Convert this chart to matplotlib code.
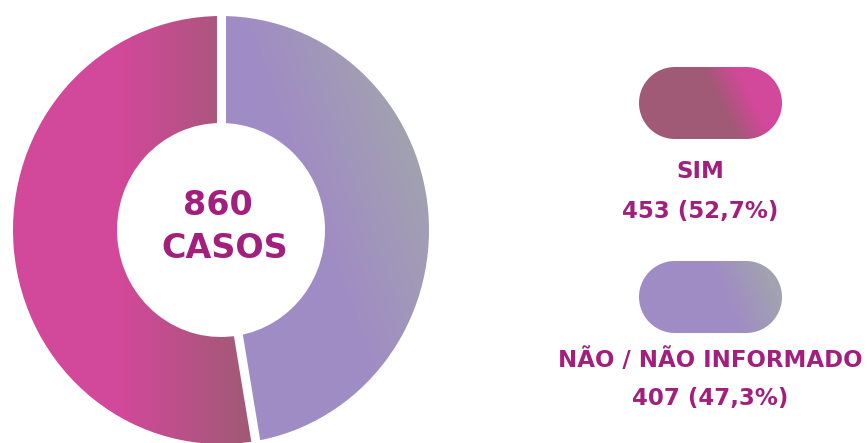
import numpy as np
import matplotlib
matplotlib.use("Agg")
import matplotlib.pyplot as plt
from matplotlib.patches import Wedge, Polygon
from matplotlib.transforms import Affine2D
from matplotlib.colors import to_rgb

# ---- data ----
categories = ["SIM", "NÃO / NÃO INFORMADO"]
values = [453, 407]
total_label = "CASOS"
# gradient colour pairs per category
grad_colors = [("#d2489a", "#a15a76"), ("#a08cc4", "#a2a2b0")]

TXT = "#a21f7d"
W, H = 867, 443
fig = plt.figure(figsize=(W / 100, H / 100), dpi=100)
ax = fig.add_axes([0, 0, 1, 1])
ax.set_xlim(0, W)
ax.set_ylim(H, 0)
ax.axis("off")

yy, xx = np.mgrid[0:H, 0:W] + 0.5


def grad_img(p0, p1, c0, c1):
    d = np.array(p1, float) - np.array(p0, float)
    t = ((xx - p0[0]) * d[0] + (yy - p0[1]) * d[1]) / (d @ d)
    t = np.clip(t, 0, 1)[..., None]
    a, b = np.array(to_rgb(c0)), np.array(to_rgb(c1))
    return a * (1 - t) + b * t


cx, cy, rx, ry = 221, 230, 208, 214
inner = 0.5
ring_tr = Affine2D().scale(rx, ry).translate(cx, cy) + ax.transData

total = sum(values)
fracs = [v / total for v in values]
a_split = 270 - 360 * fracs[0]
angles = [(a_split, 270), (270, a_split + 360)]
grad_pts = [((120, 230), (248, 230)), ((310, 200), (420, 160))]

for (a0, a1), (p0, p1), (c0, c1) in zip(angles, grad_pts, grad_colors):
    w = Wedge((0, 0), 1, a0, a1, width=1 - inner, transform=ring_tr)
    im = ax.imshow(grad_img(p0, p1, c0, c1), extent=(0, W, H, 0),
                   interpolation="bilinear", zorder=1)
    im.set_clip_path(w)

for a in (270, a_split):
    r = np.radians(a)
    ax.plot([0.4 * np.cos(r), 1.1 * np.cos(r)], [0.4 * np.sin(r), 1.1 * np.sin(r)],
            color="white", lw=6.5, solid_capstyle="butt", transform=ring_tr, zorder=3)

ax.text(218, 205, f"{total}", ha="center", va="center", color=TXT,
        fontsize=24, fontweight="bold", family="DejaVu Sans", zorder=4)
ax.text(225, 248, total_label, ha="center", va="center", color=TXT,
        fontsize=24, fontweight="bold", family="DejaVu Sans", zorder=4)


def pill(x0, y0, w, h):
    r = h / 2
    t1 = np.linspace(-np.pi / 2, np.pi / 2, 60)
    t2 = np.linspace(np.pi / 2, 3 * np.pi / 2, 60)
    right = np.c_[x0 + w - r + r * np.cos(t1), y0 + r + r * np.sin(t1)]
    left = np.c_[x0 + r + r * np.cos(t2), y0 + r + r * np.sin(t2)]
    return Polygon(np.r_[right, left], closed=True, transform=ax.transData,
                   facecolor="none", edgecolor="none")


pill_y = [67, 261]
pill_grad = [((722, 105), (748, 92), grad_colors[0][1], grad_colors[0][0]),
             ((728, 299), (770, 281), grad_colors[1][0], grad_colors[1][1])]
text_cx = [700, 710]
label_y = [(172, 211), (360, 398)]
for i in range(2):
    p = pill(639, pill_y[i], 143, 72)
    ax.add_patch(p)
    g0, g1, c0, c1 = pill_grad[i]
    im = ax.imshow(grad_img(g0, g1, c0, c1), extent=(0, W, H, 0),
                   interpolation="bilinear", zorder=1)
    im.set_clip_path(p)
    pct = f"{fracs[i] * 100:.1f}".replace(".", ",")
    ax.text(text_cx[i], label_y[i][0], categories[i], ha="center", va="center",
            color=TXT, fontsize=16.5, fontweight="bold", family="DejaVu Sans")
    ax.text(text_cx[i], label_y[i][1], f"{values[i]} ({pct}%)", ha="center",
            va="center", color=TXT, fontsize=16.5, fontweight="bold", family="DejaVu Sans")

fig.savefig("out.png", dpi=100)
